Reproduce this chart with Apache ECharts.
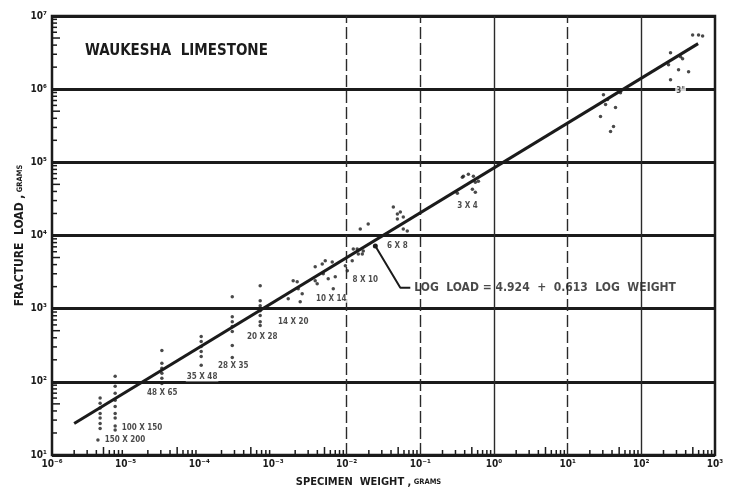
<!DOCTYPE html>
<html>
<head>
<meta charset="utf-8">
<script src="https://cdn.jsdelivr.net/npm/echarts@6/dist/echarts.min.js"></script>
<style>
  html, body { margin: 0; padding: 0; background: #ffffff; }
  #chart { width: 730px; height: 493px; }
</style>
</head>
<body>
<div id="chart"></div>
<script>
// Fracture tests on Waukesha limestone: specimen weight (g) vs. fracture load (g)

// Decade exponents shown on each axis
const weightDecades = [-6, -5, -4, -3, -2, -1, 0, 1, 2, 3];
const loadDecades = [1, 2, 3, 4, 5, 6, 7];
// Subdivisions marked inside each decade
const cycleMarks = [2, 3, 4, 5, 6, 7, 8, 9];

// Individual tests, grouped by screen size: [weight, load]
const mesh150x200 = [[4.5e-6, 60], [4.5e-6, 51], [4.5e-6, 44], [4.5e-6, 37], [4.5e-6, 32], [4.5e-6, 27], [4.5e-6, 23], [4.2e-6, 16]];
const mesh100x150 = [[7.2e-6, 119], [7.2e-6, 87], [7.2e-6, 70], [7.2e-6, 56], [7.2e-6, 46], [7.2e-6, 37], [7.2e-6, 32], [7.2e-6, 25], [7.2e-6, 22]];
const mesh48x65 = [[3.1e-5, 269], [3.1e-5, 179], [3.1e-5, 153], [3.1e-5, 131], [3.1e-5, 112], [3.1e-5, 95]];
const mesh35x48 = [[1.06e-4, 416], [1.06e-4, 356], [1.06e-4, 304], [1.06e-4, 260], [1.06e-4, 222], [1.06e-4, 168]];
const mesh28x35 = [[2.8e-4, 1456], [2.8e-4, 778], [2.8e-4, 665], [2.8e-4, 569], [2.8e-4, 486], [2.8e-4, 314], [2.8e-4, 215]];
const mesh20x28 = [[6.7e-4, 2056], [6.7e-4, 1285], [6.7e-4, 1099], [6.7e-4, 940], [6.7e-4, 804], [6.7e-4, 665], [6.7e-4, 587]];
const mesh14x20 = [[1.61e-3, 1368], [1.88e-3, 2404], [2.2e-3, 1871], [2.49e-3, 1600], [2.13e-3, 2328], [2.34e-3, 1245], [3.98e-3, 2188]];
const mesh10x14 = [[3.74e-3, 3727], [4.66e-3, 4093], [5.12e-3, 4500], [6.37e-3, 4360], [4.81e-3, 2993], [3.74e-3, 2404], [5.62e-3, 2559], [6.58e-3, 1871], [7.0e-3, 2723]];
const mesh8x10 = [[1.02e-2, 3289], [1.19e-2, 4500], [9.6e-3, 3846], [1.39e-2, 6546], [1.44e-2, 5598], [1.68e-2, 6152], [1.23e-2, 6546], [1.53e-2, 12250], [1.96e-2, 14320], [1.63e-2, 5598]];
const mesh6x8 = [[4.3e-2, 24430], [4.88e-2, 19630], [5.35e-2, 20890], [4.88e-2, 16750], [6.65e-2, 11510], [5.87e-2, 17860], [5.87e-2, 12250]];
const mesh3x4 = [[0.384, 64570], [0.449, 68700], [0.525, 64570], [0.614, 55080], [0.558, 53460], [0.509, 42950], [0.558, 39080], [0.318, 37840], [0.372, 62520]];
const lumps1in = [[30.6, 841000], [34.8, 720000], [32.7, 615000], [44.6, 560000], [27.9, 423000], [41.9, 309000], [38.2, 264000], [47.5, 984000], [52.1, 896000]];
const lumps3in = [[249, 3140000], [234, 2150000], [341, 2770000], [320, 1840000], [438, 1730000], [249, 1350000], [363, 2600000], [497, 5510000], [598, 5510000], [679, 5350000]];

// Screen-size captions and where they sit: [weight, load]
const sizeNames = ['150 X 200', '100 X 150', '48 X 65', '35 X 48', '28 X 35', '20 X 28', '14 X 20', '10 X 14', '8 X 10', '6 X 8', '3 X 4', '3"'];
const sizeNameAt = [[9.8e-6, 16], [1.67e-5, 23.3], [3.13e-5, 69.8], [1.09e-4, 115], [2.88e-4, 163], [7.13e-4, 416], [1.88e-3, 665], [6.18e-3, 1368], [1.79e-2, 2483], [4.88e-2, 7197], [0.436, 25180], [341, 955000]];

// Least-squares fit: log LOAD = a + b log WEIGHT
const fitIntercept = 4.924;
const fitSlope = 0.613;
const fitWeightRange = [2e-6, 590];

// Pointer from the fitted line to its equation
const leaderPath = [[2.45e-2, 7194], [5.35e-2, 1932], [7.31e-2, 1932]];

const ink = '#1b1b1b';
const FONT = '"DejaVu Sans Condensed", "DejaVu Sans", sans-serif';
const SUP = { '-': '\u207B', '0': '\u2070', '1': '\u00B9', '2': '\u00B2', '3': '\u00B3', '4': '\u2074', '5': '\u2075', '6': '\u2076', '7': '\u2077', '8': '\u2078', '9': '\u2079' };
function powerOfTen(v) {
  const e = Math.round(Math.log10(v));
  return '10' + String(e).split('').map(c => SUP[c]).join('');
}

const allTests = [].concat(mesh150x200, mesh100x150, mesh48x65, mesh35x48, mesh28x35, mesh20x28,
  mesh14x20, mesh10x14, mesh8x10, mesh6x8, mesh3x4, lumps1in, lumps3in);

const fitLine = fitWeightRange.map(w => [w, Math.pow(10, fitIntercept + fitSlope * Math.log10(w))]);

// Log-cycle tick values along each scale
const weightMin = 1e-6;
const loadMin = 10;
const anchorLoad = 100;
const weightCycleTicks = [];
weightDecades.slice(0, -1).forEach(e => cycleMarks.forEach(k => weightCycleTicks.push([k * Math.pow(10, e), anchorLoad, k])));
const loadCycleTicks = [];
loadDecades.slice(0, -1).forEach(e => cycleMarks.forEach(k => loadCycleTicks.push([k * Math.pow(10, e), k])));

function weightTickRenderer(params, api) {
  const len = api.value(2) === 5 ? 8 : 5;
  const p = api.coord([api.value(0), loadMin]);
  return { type: 'rect', shape: { x: p[0] - 0.75, y: p[1] - len, width: 1.5, height: len }, style: { fill: ink } };
}

// Vertical decade lines: some printed solid, some broken
const brokenDecades = [-2, -1, 1];
const decadeLines = weightDecades.slice(1, -1).map(e => ({
  xAxis: Math.pow(10, e),
  lineStyle: { color: '#2a2a2a', width: 1.4, type: brokenDecades.includes(e) ? [12, 4] : 'solid' }
}));

const nameRich = (size) => ({
  a: { fontFamily: FONT, fontSize: size, fontWeight: 'bold', color: ink },
  b: { fontFamily: FONT, fontSize: 7.5, fontWeight: 'bold', color: ink }
});

const chart = echarts.init(document.getElementById('chart'));
chart.setOption({
  backgroundColor: '#ffffff',
  animation: false,
  title: {
    text: 'WAUKESHA  LIMESTONE',
    left: 80, top: 39,
    textStyle: { fontFamily: FONT, fontSize: 15, fontWeight: 'bold', color: ink }
  },
  grid: { left: 52, right: 15, top: 16, bottom: 36, show: true, borderColor: ink, borderWidth: 2.5, backgroundColor: 'transparent' },
  xAxis: {
    type: 'log', logBase: 10, min: 1e-6, max: 1e3, splitNumber: 9,
    name: '{a|SPECIMEN  WEIGHT ,}{b| GRAMS}',
    nameLocation: 'middle', nameGap: 22, nameMoveOverlap: false,
    nameTextStyle: { padding: [0, 30, 0, 0], rich: nameRich(11) },
    axisLine: { lineStyle: { color: ink, width: 2 } },
    axisTick: { show: false },
    splitLine: { show: false },
    axisLabel: { formatter: powerOfTen, fontFamily: FONT, fontSize: 10, fontWeight: 'bold', color: ink, margin: 4, showMinLabel: true, showMaxLabel: true }
  },
  yAxis: {
    type: 'log', logBase: 10, min: 10, max: 1e7, splitNumber: 6,
    name: '{a|FRACTURE  LOAD ,}{b| GRAMS}',
    nameLocation: 'middle', nameGap: 26, nameMoveOverlap: false,
    nameTextStyle: { rich: nameRich(12) },
    axisLine: { lineStyle: { color: ink, width: 2 } },
    axisTick: { show: false },
    splitLine: { show: true, lineStyle: { color: ink, width: 3 } },
    axisLabel: { formatter: powerOfTen, fontFamily: FONT, fontSize: 10, fontWeight: 'bold', color: ink, margin: 5, showMinLabel: true, showMaxLabel: true }
  },
  series: [
    {
      name: 'decade lines', type: 'line', data: [], silent: true,
      markLine: { silent: true, symbol: 'none', label: { show: false }, data: decadeLines, animation: false }
    },
    {
      name: 'weight cycle ticks', type: 'custom', data: weightCycleTicks, silent: true, clip: false, z: 3,
      renderItem: weightTickRenderer
    },
    {
      name: 'tests', type: 'scatter', data: allTests, symbol: 'circle', symbolSize: 3.5,
      itemStyle: { color: ink }, z: 4
    },
    {
      name: 'fit', type: 'line', data: fitLine, showSymbol: false, silent: true,
      lineStyle: { color: ink, width: 3 }, z: 5
    },
    {
      name: 'leader', type: 'line', data: leaderPath, silent: true,
      symbol: 'none', lineStyle: { color: ink, width: 2 }, z: 5,
      markPoint: {
        symbol: 'circle', symbolSize: 5, itemStyle: { color: ink },
        label: { show: false },
        data: [{ coord: leaderPath[0] }]
      }
    },
    {
      name: 'equation', type: 'scatter', data: [leaderPath[leaderPath.length - 1]], symbolSize: 0, silent: true,
      label: {
        show: true, position: 'right', distance: 4,
        formatter: 'LOG  LOAD = ' + fitIntercept.toFixed(3) + '  +  ' + fitSlope.toFixed(3) + '  LOG  WEIGHT',
        fontFamily: FONT, fontSize: 12, fontWeight: 'bold', color: ink
      }
    },
    {
      name: 'size names', type: 'scatter', silent: true, symbolSize: 0, z: 6,
      data: sizeNameAt.map((p, i) => ({ value: p, name: sizeNames[i] })),
      label: {
        show: true, position: 'inside', formatter: p => p.name,
        fontFamily: FONT, fontSize: 8, fontWeight: 'bold', color: ink,
        backgroundColor: '#ffffff', padding: [0, 1]
      }
    }
  ]
});

// Log-cycle ticks on the load scale, placed through the grid's own conversion
const loadTickMarks = loadCycleTicks.map(([load, k]) => {
  const p = chart.convertToPixel({ gridIndex: 0 }, [weightMin, load]);
  const len = k === 5 ? 8 : 5;
  return {
    type: 'rect', silent: true, z: 3,
    shape: { x: p[0], y: p[1] - 0.75, width: len, height: 1.5 },
    style: { fill: ink }
  };
});
chart.setOption({ graphic: loadTickMarks });
</script>
</body>
</html>
